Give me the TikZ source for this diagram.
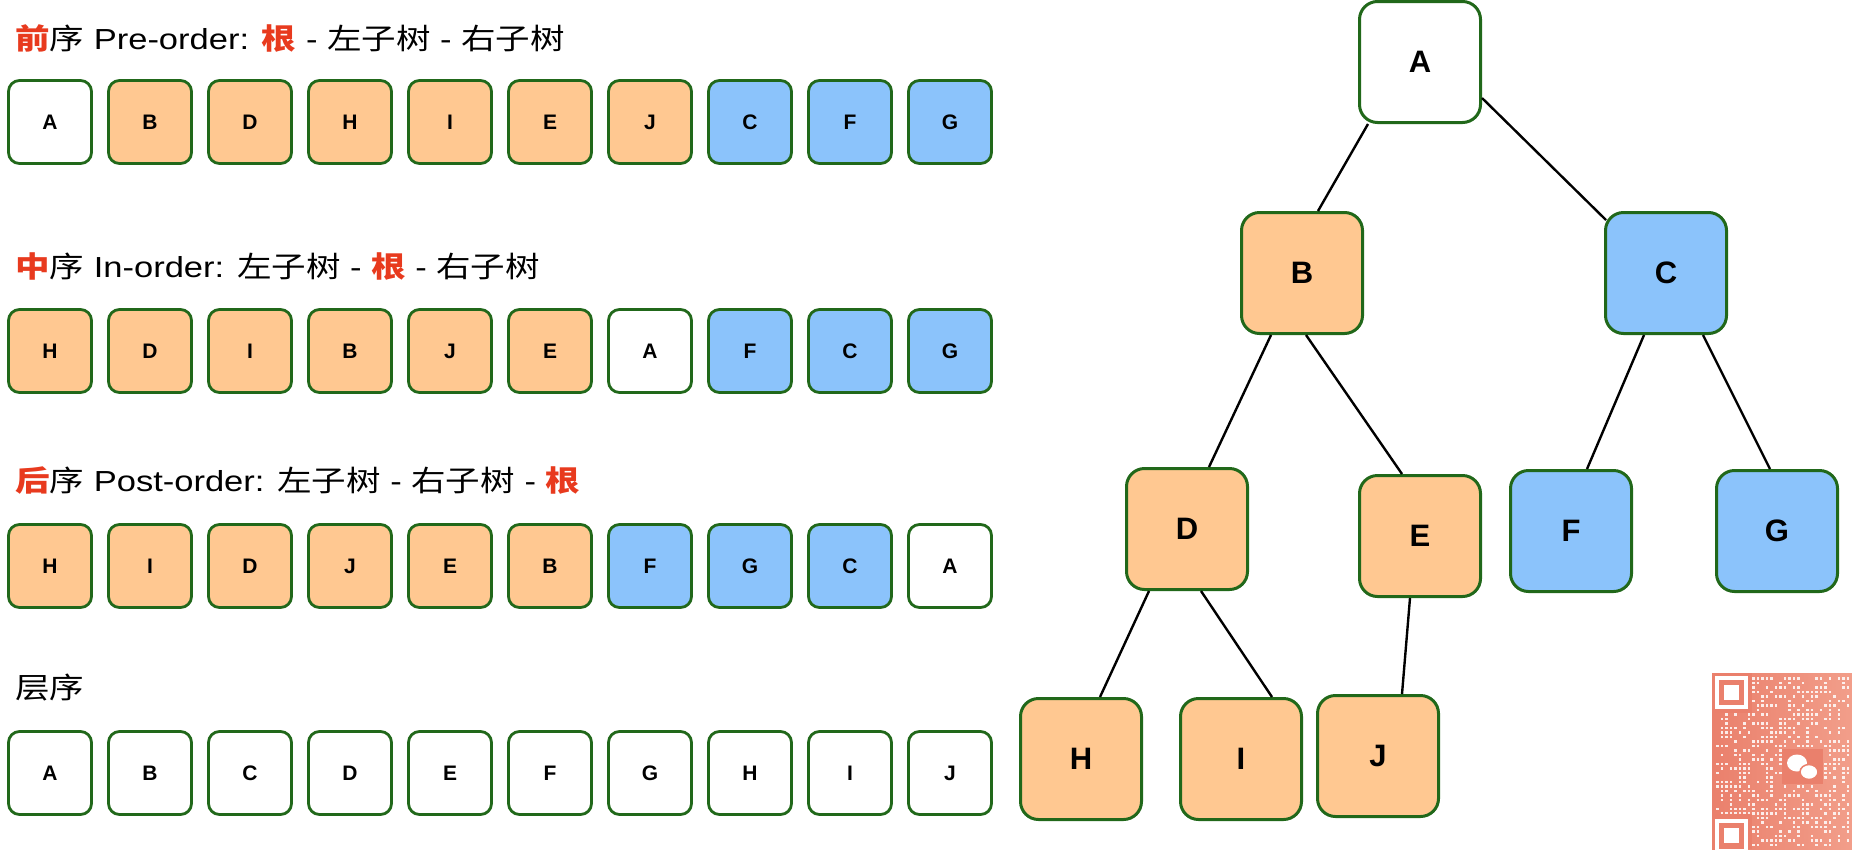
\documentclass[tikz,border=0pt]{standalone}
\usepackage{fontspec}
\usepackage{graphicx}
\setmainfont{Liberation Sans}
\newfontfamily\cjk{Noto Sans CJK SC}
\usetikzlibrary{calc}
\definecolor{bgreen}{RGB}{33,104,26}
\definecolor{orng}{RGB}{255,200,145}
\definecolor{blu}{RGB}{139,195,251}
\definecolor{hred}{RGB}{232,58,30}
\definecolor{qrc}{RGB}{234,128,108}
\definecolor{qrd}{RGB}{242,158,138}
\newcommand\hlz[1]{{\cjk\bfseries\color{hred}#1}}
\newcommand\zhz[1]{{\cjk #1}}
\newcommand\ttlscale[1]{\scalebox{1.19}[1]{#1}}
\begin{document}
\begin{tikzpicture}[x=1pt,y=-1pt,
  rbox/.style={draw=bgreen, line width=2.8pt, rounded corners=11pt, minimum width=83pt, minimum height=83pt, inner sep=0pt, font=\fontsize{21}{21}\selectfont\bfseries},
  tnode/.style={draw=bgreen, line width=3pt, rounded corners=18pt, minimum width=121pt, minimum height=121pt, inner sep=0pt, font=\fontsize{31}{31}\selectfont\bfseries},
  ttl/.style={anchor=base west, inner sep=0pt, font=\fontsize{29}{29}\selectfont},
  edge/.style={line width=2.4pt, black}]
\fill[white] (0,0) rectangle (1852,849);
\useasboundingbox (0,0) rectangle (1852,849);

% QR watermark
\shade[left color=qrc, right color=qrd] (1712,673) rectangle (1852,849);
\pgfmathsetseed{4242}
\foreach \qx in {0,...,29} {\foreach \qy in {0,...,37} {%
  \pgfmathtruncatemacro\qq{rnd>0.5?1:0}%
  \ifnum\qq=1 \fill[white,opacity=0.85] ({1716+4.5*\qx},{677+4.5*\qy}) rectangle +(2.8,2.8);\fi}}
\fill[qrc] (1712,673) rectangle (1752,713);
\draw[white,line width=4pt] (1717,678) rectangle (1746,707);
\fill[white] (1724,685) rectangle (1739,700);
\fill[qrc] (1712,814) rectangle (1752,849);
\draw[white,line width=4pt] (1717,821) rectangle (1746,851);
\fill[white] (1724,828) rectangle (1739,843);
\fill[qrc] (1782,749) rectangle (1823,784);
\fill[white] (1797,763) ellipse (10 and 8.5);
\draw[qrc, line width=1.5pt, fill=white] (1809,772) ellipse (9 and 7.5);

% titles
\node[ttl] (t1) at (15,49) {\ttlscale{\hlz{前}\zhz{序} Pre-order: \hlz{根} - \zhz{左子树} - \zhz{右子树}}};
\node[ttl] (t2) at (15,277) {\ttlscale{\hlz{中}\zhz{序} In-order: \zhz{左子树} - \hlz{根} - \zhz{右子树}}};
\node[ttl] (t3) at (15,491) {\ttlscale{\hlz{后}\zhz{序} Post-order: \zhz{左子树} - \zhz{右子树} - \hlz{根}}};
\node[ttl] (t4) at (15,698) {\ttlscale{\zhz{层序}}};

% sequences
\foreach \l/\c [count=\i from 0] in {A/white,B/orng,D/orng,H/orng,I/orng,E/orng,J/orng,C/blu,F/blu,G/blu}
  \node[rbox, fill=\c] (p\i) at (50+100*\i,122) {\l};
\foreach \l/\c [count=\i from 0] in {H/orng,D/orng,I/orng,B/orng,J/orng,E/orng,A/white,F/blu,C/blu,G/blu}
  \node[rbox, fill=\c] (q\i) at (50+100*\i,351) {\l};
\foreach \l/\c [count=\i from 0] in {H/orng,I/orng,D/orng,J/orng,E/orng,B/orng,F/blu,G/blu,C/blu,A/white}
  \node[rbox, fill=\c] (s\i) at (50+100*\i,566) {\l};
\foreach \l [count=\i from 0] in {A,B,C,D,E,F,G,H,I,J}
  \node[rbox, fill=white] (u\i) at (50+100*\i,773) {\l};

% tree
\node[tnode, fill=white] (A) at (1420,62) {A};
\node[tnode, fill=orng] (B) at (1302,273) {B};
\node[tnode, fill=blu] (C) at (1666,273) {C};
\node[tnode, fill=orng] (D) at (1187,529) {D};
\node[tnode, fill=orng] (E) at (1420,536) {E};
\node[tnode, fill=blu] (F) at (1571,531) {F};
\node[tnode, fill=blu] (G) at (1777,531) {G};
\node[tnode, fill=orng] (H) at (1081,759) {H};
\node[tnode, fill=orng] (I) at (1241,759) {I};
\node[tnode, fill=orng] (J) at (1378,756) {J};

\draw[edge] ($(A.south west)+(10,0)$) -- ($(B.north west)+(78,0)$);
\draw[edge] ($(A.north east)+(0,98)$) -- ($(C.north west)+(2,9)$);
\draw[edge] ($(B.south west)+(31,0)$) -- ($(D.north west)+(84,0)$);
\draw[edge] ($(B.south west)+(66,0)$) -- ($(E.north west)+(44,0)$);
\draw[edge] ($(C.south west)+(40,0)$) -- ($(F.north west)+(78,0)$);
\draw[edge] ($(C.south west)+(99,0)$) -- ($(G.north west)+(55,0)$);
\draw[edge] ($(D.south west)+(24,0)$) -- ($(H.north west)+(81,0)$);
\draw[edge] ($(D.south west)+(76,0)$) -- ($(I.north west)+(93,0)$);
\draw[edge] ($(E.south west)+(52,0)$) -- ($(J.north west)+(86,0)$);
\end{tikzpicture}
\end{document}
